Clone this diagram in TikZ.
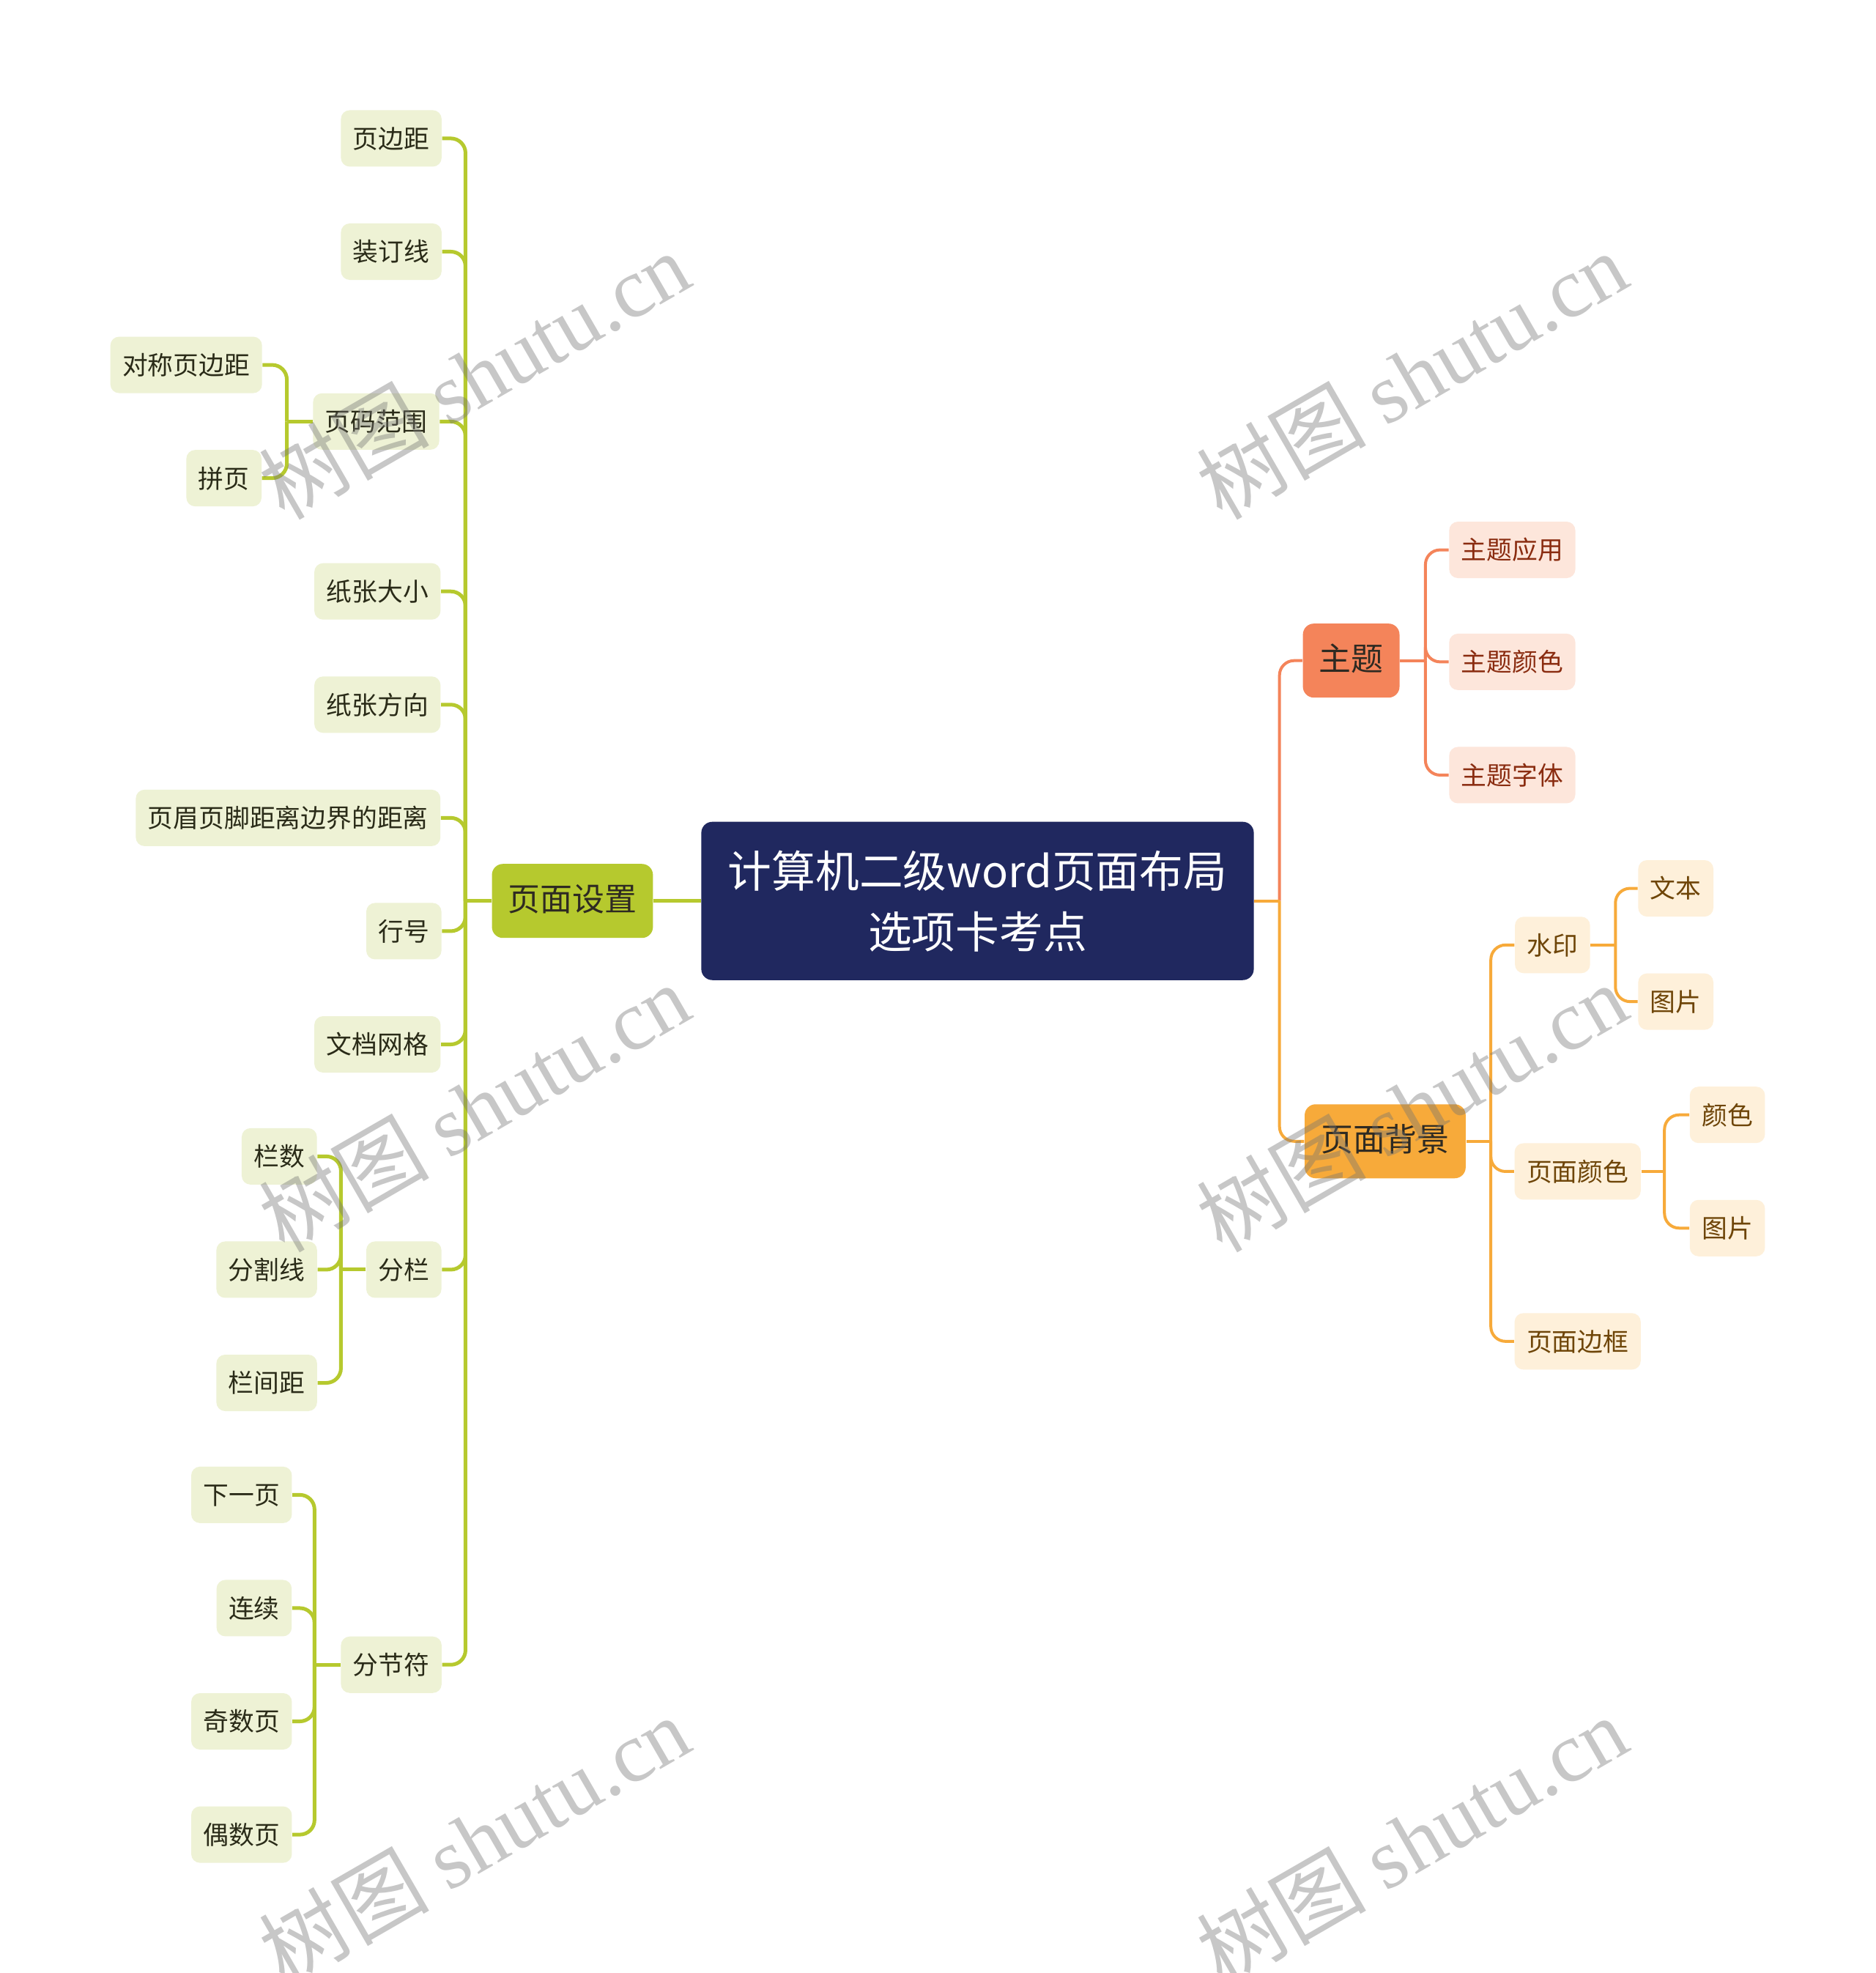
\documentclass[tikz,border=0pt]{standalone}
\usepackage{fontspec}
\setmainfont{Noto Sans CJK SC}
\newfontfamily\wmlatin{Liberation Serif}
\usetikzlibrary{positioning, calc}
\definecolor{mapNavy}{HTML}{20285F}
\definecolor{mapGreenS}{HTML}{B6C92E}
\definecolor{mapGreenF}{HTML}{EEF2D5}
\definecolor{mapGreenT}{HTML}{2A2B18}
\definecolor{mapCoralS}{HTML}{F4845A}
\definecolor{mapCoralF}{HTML}{FDE6DB}
\definecolor{mapCoralT}{HTML}{8A2C10}
\definecolor{mapAmberS}{HTML}{F7AA3A}
\definecolor{mapAmberF}{HTML}{FEF0DA}
\definecolor{mapAmberT}{HTML}{6E4508}
\definecolor{mapTopicT}{HTML}{2E2A22}
\tikzset{
  leaf/.style={rounded corners=1.2mm, minimum height=7.7mm, inner xsep=1.65mm,
    inner ysep=0pt, text height=0.88em, text depth=0.12em,
    font=\fontsize{9.9pt}{12pt}\selectfont},
  gleaf/.style={leaf, fill=mapGreenF, text=mapGreenT},
  cleaf/.style={leaf, fill=mapCoralF, text=mapCoralT},
  aleaf/.style={leaf, fill=mapAmberF, text=mapAmberT},
  topic/.style={rounded corners=1.5mm, minimum height=10.1mm, inner xsep=2.2mm,
    inner ysep=0pt, text height=0.88em, text depth=0.12em, text=mapTopicT,
    font=\fontsize{12.5pt}{15pt}\selectfont},
  gtopic/.style={topic, fill=mapGreenS},
  ctopic/.style={topic, fill=mapCoralS},
  atopic/.style={topic, fill=mapAmberS},
  centre/.style={rounded corners=1.5mm, fill=mapNavy, text=white, align=center,
    minimum width=75.4mm, minimum height=21.6mm, inner sep=0pt,
    font=\fontsize{17pt}{23.6pt}\selectfont},
  gflow/.style={draw=mapGreenS, line width=0.5mm, rounded corners=2mm},
  cflow/.style={draw=mapCoralS, line width=0.4mm, rounded corners=2mm},
  aflow/.style={draw=mapAmberS, line width=0.4mm, rounded corners=2mm},
  wmark/.style={rotate=30, text=black!55, text opacity=0.4,
    font=\fontsize{33pt}{33pt}\selectfont},
}

\begin{document}
\begin{tikzpicture}[x=0.1717mm, y=-0.1717mm]
  \fill[white] (0,0) rectangle (1491,1568);
  \useasboundingbox (0,0) rectangle (1491,1568);

  % ---- Centre ------------------------------------------------------------
  \node[centre] (root) at (777,716) {计算机二级word页面布局\\选项卡考点};

  % ---- Left branch: page setup ------------------------------------------
  \node[gtopic] (pset) at (455,716) {页面设置};
  \coordinate (psetJ) at (370,716);

  \node[gleaf] (margin)  at (311,110)  {页边距};
  \node[gleaf] (gutter)  at (311,200)  {装订线};
  \node[gleaf] (range)   at (299,335)  {页码范围};
  \node[gleaf] (mirror)  at (148,290)  {对称页边距};
  \node[gleaf] (twopage) at (178,380)  {拼页};
  \node[gleaf] (psize)   at (300,470)  {纸张大小};
  \node[gleaf] (porient) at (300,560)  {纸张方向};
  \node[gleaf] (hfdist)  at (229,650)  {页眉页脚距离边界的距离};
  \node[gleaf] (lineno)  at (321,740)  {行号};
  \node[gleaf] (docgrid) at (300,830)  {文档网格};
  \node[gleaf] (cols)    at (321,1009) {分栏};
  \node[gleaf] (colnum)  at (222,919)  {栏数};
  \node[gleaf] (colsep)  at (212,1009) {分割线};
  \node[gleaf] (colgap)  at (212,1099) {栏间距};
  \node[gleaf] (secbrk)  at (311,1323) {分节符};
  \node[gleaf] (nextpg)  at (192,1188) {下一页};
  \node[gleaf] (contin)  at (202,1278) {连续};
  \node[gleaf] (oddpg)   at (192,1368) {奇数页};
  \node[gleaf] (evenpg)  at (192,1458) {偶数页};

  \coordinate (rangeJ) at (228,335);
  \coordinate (colsJ)  at (271,1009);
  \coordinate (secJ)   at (250,1323);

  \draw[gflow] (root.west) -- (pset.east);
  \draw[gflow] (pset.west) -- (psetJ);
  \draw[gflow] (margin.east)  -| (psetJ);
  \draw[gflow] (gutter.east)  -| (psetJ);
  \draw[gflow] (range.east)   -| (psetJ);
  \draw[gflow] (psize.east)   -| (psetJ);
  \draw[gflow] (porient.east) -| (psetJ);
  \draw[gflow] (hfdist.east)  -| (psetJ);
  \draw[gflow] (lineno.east)  -| (psetJ);
  \draw[gflow] (docgrid.east) -| (psetJ);
  \draw[gflow] (cols.east)    -| (psetJ);
  \draw[gflow] (secbrk.east)  -| (psetJ);

  \draw[gflow] (range.west) -- (rangeJ);
  \draw[gflow] (mirror.east)  -| (rangeJ);
  \draw[gflow] (twopage.east) -| (rangeJ);

  \draw[gflow] (cols.west) -- (colsJ);
  \draw[gflow] (colnum.east) -| (colsJ);
  \draw[gflow] (colsep.east) -| (colsJ);
  \draw[gflow] (colgap.east) -| (colsJ);

  \draw[gflow] (secbrk.west) -- (secJ);
  \draw[gflow] (nextpg.east) -| (secJ);
  \draw[gflow] (contin.east) -| (secJ);
  \draw[gflow] (oddpg.east)  -| (secJ);
  \draw[gflow] (evenpg.east) -| (secJ);

  % ---- Right branch: theme ----------------------------------------------
  \coordinate (rootJ) at (1017,716);
  \node[ctopic] (theme) at (1074,525) {主题};
  \node[cleaf] (thapply) at (1202,437) {主题应用};
  \node[cleaf] (thcolor) at (1202,526) {主题颜色};
  \node[cleaf] (thfont)  at (1202,616) {主题字体};
  \coordinate (themeJ) at (1133,525);

  \draw[cflow] (theme.west) -| (rootJ);
  \draw[cflow] (theme.east) -- (themeJ);
  \draw[cflow] (thapply.west) -| (themeJ);
  \draw[cflow] (thcolor.west) -| (themeJ);
  \draw[cflow] (thfont.west)  -| (themeJ);

  % ---- Right branch: page background ------------------------------------
  \node[atopic] (pbg) at (1101,907) {页面背景};
  \node[aleaf] (wmk)    at (1234,751)  {水印};
  \node[aleaf] (wmtext) at (1332,706)  {文本};
  \node[aleaf] (wmpic)  at (1332,796)  {图片};
  \node[aleaf] (pcolor) at (1254,931)  {页面颜色};
  \node[aleaf] (pccol)  at (1373,886)  {颜色};
  \node[aleaf] (pcpic)  at (1373,976)  {图片};
  \node[aleaf] (pborder) at (1254,1066) {页面边框};
  \coordinate (pbgJ)   at (1185,907);
  \coordinate (wmkJ)   at (1284,751);
  \coordinate (pcolorJ) at (1323,931);

  \draw[aflow] (root.east) -- (rootJ);
  \draw[aflow] (pbg.west) -| (rootJ);
  \draw[aflow] (pbg.east) -- (pbgJ);
  \draw[aflow] (wmk.west)     -| (pbgJ);
  \draw[aflow] (pcolor.west)  -| (pbgJ);
  \draw[aflow] (pborder.west) -| (pbgJ);
  \draw[aflow] (wmk.east) -- (wmkJ);
  \draw[aflow] (wmtext.west) -| (wmkJ);
  \draw[aflow] (wmpic.west)  -| (wmkJ);
  \draw[aflow] (pcolor.east) -- (pcolorJ);
  \draw[aflow] (pccol.west) -| (pcolorJ);
  \draw[aflow] (pcpic.west) -| (pcolorJ);

  % ---- Watermarks --------------------------------------------------------
  \node[wmark] (wmA) at (377,298)   {树图 {\wmlatin shutu.cn}};
  \node[wmark] (wmB) at (377,880)   {树图 {\wmlatin shutu.cn}};
  \node[wmark] (wmC) at (377,1462)  {树图 {\wmlatin shutu.cn}};
  \node[wmark] (wmD) at (1122,298)  {树图 {\wmlatin shutu.cn}};
  \node[wmark] (wmE) at (1122,880)  {树图 {\wmlatin shutu.cn}};
  \node[wmark] (wmF) at (1122,1462) {树图 {\wmlatin shutu.cn}};

\end{tikzpicture}
\end{document}
